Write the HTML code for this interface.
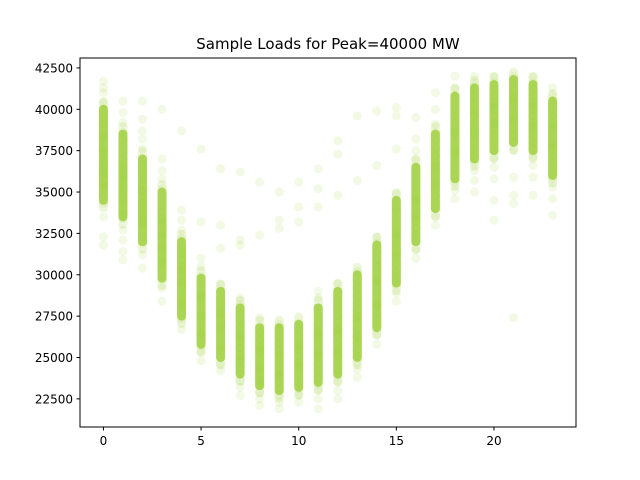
<!DOCTYPE html>
<html><head><meta charset="utf-8">
<style>
html,body{margin:0;padding:0;background:#fff;width:640px;height:480px;overflow:hidden}
svg text{font-family:"DejaVu Sans","Liberation Sans",sans-serif;fill:#000}
</style></head>
<body>
<svg id="chart" width="640" height="480">
<text x="328" y="49" text-anchor="middle" font-size="15">Sample Loads for Peak=40000 MW</text>
<g id="points"></g>
<rect x="80" y="58" width="496" height="369" fill="none" stroke="#000" stroke-width="1"/>
<g id="axes"></g>
</svg>
<script>
const hours = [0,1,2,3,4,5,6,7,8,9,10,11,12,13,14,15,16,17,18,19,20,21,22,23];
const coreLow = [34500,33500,32000,29800,27500,25800,25000,24000,23300,23000,23200,23500,24000,25000,26800,29500,32000,34000,35800,37000,37500,38000,37500,36000];
const coreHigh = [40000,38500,37000,35000,32000,29800,29000,28000,26800,26800,27000,28000,29000,30000,31800,34500,36500,38500,40800,41300,41500,41800,41500,40500];
const loads = [
[31800,32300,33500,34300,34800,35200,35600,36000,36300,36600,37000,37300,37600,37900,38200,38500,38800,39100,39400,39700,40000,40400,41000,41300,41700,36100,36800,37500,38300,35400],
[30900,31400,32100,32700,33400,33900,34300,34700,35000,35400,35700,36000,36300,36700,37000,37400,37800,38200,38600,39200,39800,40500,35200,35900,36500,34500,33700],
[30400,31200,31900,32400,32900,33300,33700,34000,34400,34700,35100,35400,35800,36200,36600,37000,37600,38200,38700,39400,40500,34200,33500,35000,33100],
[28400,29200,29700,30200,30600,31000,31400,31800,32200,32600,33000,33400,33800,34200,34700,35200,35800,36300,37000,40000,31600,32400,30800,33200],
[26700,27300,27700,28100,28500,28900,29300,29700,30100,30500,30900,31300,31700,32200,32700,33300,33900,38700,29500,28300,30300],
[24800,25300,25700,26100,26500,26900,27300,27700,28100,28500,28900,29400,29900,30500,31000,33200,37600,26400,27500,28700],
[24200,24600,25000,25400,25800,26200,26600,27000,27400,27800,28200,28600,29000,29400,31600,33000,36400,25600,26800,27600],
[22700,23200,23600,24000,24400,24800,25200,25600,26000,26400,26800,27200,27700,28200,28600,31800,32100,36200,25000,26200],
[22100,22500,22900,23300,23700,24100,24500,24900,25300,25700,26100,26500,26900,27400,32400,35600,24300,25500,23500],
[21900,22300,22700,23100,23500,23900,24300,24700,25100,25500,25900,26300,26700,27000,32800,33300,35000,24000,25200],
[22300,22700,23100,23500,23900,24300,24700,25100,25500,25900,26300,26700,27100,33200,34100,35600,24500,25700],
[21900,22500,23000,23400,23800,24200,24600,25000,25400,25800,26200,26600,27000,27500,28000,28600,29000,34100,35200,36400,25200,26400],
[22500,23000,23500,23900,24300,24700,25100,25500,25900,26300,26700,27100,27500,28000,28500,29000,29500,34800,37300,38100,25300,26600],
[23800,24300,24700,25100,25500,25900,26300,26700,27100,27500,27900,28300,28700,29200,29700,30200,35700,39600,26200,27400],
[25800,26400,26900,27300,27700,28100,28500,28900,29300,29700,30100,30500,30900,31400,31900,32300,36600,39900,28200,29600],
[28400,28900,29400,29800,30200,30600,31000,31400,31800,32200,32600,33000,33400,33900,34400,34900,37600,39600,40100,31200,32400],
[31000,31500,32000,32400,32800,33200,33600,34000,34400,34800,35200,35600,36000,36500,37000,37500,38200,39500,33400,34600],
[33000,33500,34000,34400,34800,35200,35600,36000,36400,36800,37200,37600,38100,38600,39100,40000,41000,35400,36600],
[34600,35100,35600,36000,36400,36800,37200,37600,38000,38400,38800,39200,39600,40000,40400,40800,41300,42000,37400,38600],
[35000,35700,36300,36800,37200,37600,38000,38400,38800,39200,39600,40000,40400,40800,41200,41600,42000,38600,39800],
[33300,34500,35800,36500,37000,37500,38000,38400,38800,39200,39600,40000,40400,40800,41200,41600,42000,39100,40200],
[27400,34300,34800,35900,37500,38000,38400,38800,39200,39600,40000,40400,40800,41200,41600,42000,39400,40600],
[34800,35900,36600,37100,37600,38000,38400,38800,39200,39600,40000,40400,40800,41200,41600,42000,39000,40200],
[33600,34600,35300,35800,36300,36800,37200,37600,38000,38400,38800,39200,39600,40000,40400,40800,41300,37800,39000]
];
const xTicks = [0,5,10,15,20];
const yTicks = [22500,25000,27500,30000,32500,35000,37500,40000,42500];

function xScale(v){ return 80 + (v - (-1.2)) / (24.2 - (-1.2)) * 496; }
function yScale(v){ return 427 - (v - 20800) / (43100 - 20800) * 369; }

const NS = "http://www.w3.org/2000/svg";
const pts = document.getElementById('points');
hours.forEach((h, i) => {
  const yt = yScale(coreHigh[i]), yb = yScale(coreLow[i]);
  const b = document.createElementNS(NS, 'rect');
  b.setAttribute('x', xScale(h) - 4.5);
  b.setAttribute('y', yt - 4.5);
  b.setAttribute('width', 9);
  b.setAttribute('height', yb - yt + 9);
  b.setAttribute('rx', 4.5);
  b.setAttribute('fill', '#9acd32');
  b.setAttribute('fill-opacity', 0.75);
  
  
  pts.appendChild(b);
  const b2 = document.createElementNS(NS, 'rect');
  b2.setAttribute('x', xScale(h) - 4.5);
  b2.setAttribute('y', yt - 12);
  b2.setAttribute('width', 9);
  b2.setAttribute('height', yb - yt + 24);
  b2.setAttribute('rx', 4.5);
  b2.setAttribute('fill', '#9acd32');
  b2.setAttribute('fill-opacity', 0.18);
  
  
  pts.appendChild(b2);
  loads[i].forEach((v) => {
    const c = document.createElementNS(NS, 'circle');
    c.setAttribute('cx', xScale(h));
    c.setAttribute('cy', yScale(v));
    c.setAttribute('r', 4.5);
    c.setAttribute('fill', '#9acd32');
    c.setAttribute('fill-opacity', 0.13);
    
    
    pts.appendChild(c);
  });
});

const axes = document.getElementById('axes');
xTicks.forEach(t => {
  const x = xScale(t);
  const l = document.createElementNS(NS, 'line');
  l.setAttribute('x1', x); l.setAttribute('x2', x);
  l.setAttribute('y1', 427); l.setAttribute('y2', 430.5);
  l.setAttribute('stroke', '#000');
  
  
  axes.appendChild(l);
  const tx = document.createElementNS(NS, 'text');
  tx.setAttribute('x', x); tx.setAttribute('y', 445);
  tx.setAttribute('text-anchor', 'middle');
  tx.setAttribute('font-size', '12');
  tx.textContent = t;
  
  
  axes.appendChild(tx);
});
yTicks.forEach(t => {
  const y = yScale(t);
  const l = document.createElementNS(NS, 'line');
  l.setAttribute('x1', 76.5); l.setAttribute('x2', 80);
  l.setAttribute('y1', y); l.setAttribute('y2', y);
  l.setAttribute('stroke', '#000');
  
  
  axes.appendChild(l);
  const tx = document.createElementNS(NS, 'text');
  tx.setAttribute('x', 73); tx.setAttribute('y', y + 4.5);
  tx.setAttribute('text-anchor', 'end');
  tx.setAttribute('font-size', '12');
  tx.textContent = t;
  
  
  axes.appendChild(tx);
});
</script>
</body></html>
